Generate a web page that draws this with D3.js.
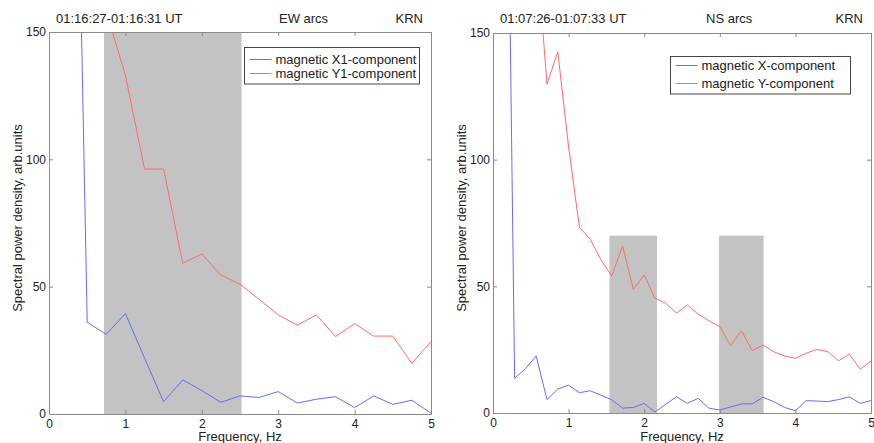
<!DOCTYPE html>
<html lang="en">
<head>
    <meta charset="UTF-8">
    <title>Spectral power density</title>
    <script src="https://cdn.jsdelivr.net/npm/d3@7/dist/d3.min.js"></script>
    <style>
        body { margin: 0; background: #fff; }
        text { font-family: "Liberation Sans", Arial, sans-serif; fill: #222; }
    </style>
</head>
<body>
<script>

    // EW arcs panel, 0.25 Hz steps
    var ewFreq = [0, 0.25, 0.5, 0.75, 1, 1.25, 1.5, 1.75, 2, 2.25, 2.5,
        2.75, 3, 3.25, 3.5, 3.75, 4, 4.25, 4.5, 4.75, 5];
    var ewX = [1200, 420, 36, 31.3, 39.4, 22, 4.8, 13.4, 9.2, 4.6, 7.1,
        6.5, 8.8, 4.3, 5.8, 6.8, 2.5, 7.1, 3.8, 5.4, 0.3];
    var ewY = [800, 500, 250, 158, 133, 96.2, 96.2, 59.2, 62.8, 54.6, 51,
        45, 38.9, 34.9, 38.9, 30.4, 35.5, 30.6, 30.6, 19.9, 28.4];
    var ewBands = [[0.72, 2.52, 150]];

    // NS arcs panel, 1/7 Hz steps
    var nsFreq = [0, 0.143, 0.286, 0.429, 0.571, 0.714, 0.857, 1, 1.143, 1.286, 1.429, 1.571,
        1.714, 1.857, 2, 2.143, 2.286, 2.429, 2.571, 2.714, 2.857, 3, 3.143, 3.286,
        3.429, 3.571, 3.714, 3.857, 4, 4.143, 4.286, 4.429, 4.571, 4.714, 4.857, 5];
    var nsX = [1000, 350, 13.7, 17.5, 22.5, 5.3, 9.5, 11, 8, 8.8, 7, 5.2,
        1.9, 2.2, 3.8, 0.4, 3.5, 6.4, 3.8, 5.8, 1.9, 1.2, 2.4, 3.6,
        3.6, 6.2, 4.5, 2.2, 0.9, 4.9, 4.7, 4.5, 5.3, 6.4, 3.8, 4.9];
    var nsY = [900, 600, 400, 260, 185, 129.8, 142.6, 105, 73.3, 68.6, 60.4, 54.1,
        66, 48.8, 54.5, 45.3, 43.3, 39.4, 42.6, 39, 36.4, 34.1, 26.5, 32.5,
        24.6, 26.8, 24.2, 22.5, 21.6, 23.6, 25.1, 24.2, 20.6, 23.2, 17.3, 20.5];
    var nsBands = [[1.54, 2.17, 70], [2.99, 3.58, 70]];

    var xTicks = [0, 1, 2, 3, 4, 5];
    var yTicks = [0, 50, 100, 150];

    var width = 874;
    var height = 443;

    var svg = d3.select('body')
        .append('svg')
        .attr('width', width)
        .attr('height', height);

    function panel(id, o) {
        var x = d3.scaleLinear().domain([0, 5]).range([o.x0, o.x1]);
        var y = d3.scaleLinear().domain([0, 150]).range([o.y0, o.y1]);
        var g = svg.append('g');

        g.append('clipPath').attr('id', id)
            .append('rect')
            .attr('x', o.x0).attr('y', o.y1)
            .attr('width', o.x1 - o.x0).attr('height', o.y0 - o.y1);

        // shaded frequency bands
        g.selectAll('rect.band')
            .data(o.bands)
            .enter()
            .append('rect')
            .attr('class', 'band')
            .attr('x', function (d) { return x(d[0]); })
            .attr('y', function (d) { return y(d[2]); })
            .attr('width', function (d) { return x(d[1]) - x(d[0]); })
            .attr('height', function (d) { return y(0) - y(d[2]); })
            .attr('fill', '#c3c3c3');

        var line = d3.line()
            .x(function (d) { return x(d[0]); })
            .y(function (d) { return y(d[1]); });

        var series = [
            {vals: o.sx, color: '#6a6aff'},
            {vals: o.sy, color: '#ff6a6a'}
        ];
        g.selectAll('path.series')
            .data(series)
            .enter()
            .append('path')
            .attr('class', 'series')
            .attr('clip-path', 'url(#' + id + ')')
            .attr('d', function (s) { return line(d3.zip(o.freq, s.vals)); })
            .attr('fill', 'none')
            .attr('stroke', function (s) { return s.color; })
            .attr('stroke-width', 1);

        // box with inward ticks (matlab style)
        var fmt = d3.format('d');
        var axes = [
            [d3.axisBottom(x).tickValues(xTicks).tickFormat(fmt).tickSize(-4).tickPadding(5), 'translate(0,' + o.y0 + ')', true],
            [d3.axisTop(x).tickValues(xTicks).tickSize(-4), 'translate(0,' + o.y1 + ')', false],
            [d3.axisLeft(y).tickValues(yTicks).tickFormat(fmt).tickSize(-4).tickPadding(3), 'translate(' + o.x0 + ',0)', true],
            [d3.axisRight(y).tickValues(yTicks).tickSize(-4), 'translate(' + o.x1 + ',0)', false]
        ];
        axes.forEach(function (a) {
            var ag = g.append('g')
                .attr('class', 'axis')
                .attr('transform', a[1])
                .call(a[0]);
            ag.select('.domain').attr('stroke', '#8a8a8a');
            ag.selectAll('.tick line').attr('stroke', '#8a8a8a');
            ag.selectAll('.tick text')
                .style('font-size', '12px')
                .attr('fill', '#222')
                .style('display', a[2] ? null : 'none');
        });

        // titles
        g.append('text').attr('x', o.x0 + 7).attr('y', 22.5)
            .style('font-size', '13px').text(o.time);
        g.append('text').attr('x', o.arcsX).attr('y', 22.5)
            .style('font-size', '13px').text(o.arcs);
        g.append('text').attr('x', o.x1 - 8).attr('y', 22.5)
            .attr('text-anchor', 'end')
            .style('font-size', '13px').text('KRN');

        g.append('text')
            .attr('x', (o.x0 + o.x1) / 2).attr('y', 441)
            .attr('text-anchor', 'middle')
            .style('font-size', '13px')
            .text('Frequency, Hz');

        g.append('text')
            .attr('transform', 'translate(' + (o.x0 - 27) + ',218) rotate(-90)')
            .attr('text-anchor', 'middle')
            .style('font-size', '13px')
            .text('Spectral power density, arb.units');

        // legend
        var lg = g.append('g').attr('transform', 'translate(' + o.leg[0] + ',' + o.leg[1] + ')');
        lg.append('rect')
            .attr('width', o.leg[2]).attr('height', o.leg[3])
            .attr('fill', '#fff').attr('stroke', '#444').attr('stroke-width', 1);
        series.forEach(function (s, i) {
            var yy = o.leg[4] + i * o.leg[5];
            lg.append('line')
                .attr('x1', 5).attr('x2', 27)
                .attr('y1', yy).attr('y2', yy)
                .attr('stroke', s.color);
            lg.append('text')
                .attr('x', 31).attr('y', yy + 4.5)
                .style('font-size', '13px')
                .text(o.labels[i]);
        });
    }

    panel('clipEW', {
        x0: 49, x1: 431, y0: 414, y1: 32,
        freq: ewFreq, sx: ewX, sy: ewY, bands: ewBands,
        time: '01:16:27-01:16:31 UT', arcs: 'EW arcs', arcsX: 279,
        leg: [244.5, 47.5, 175, 36.5, 12, 14],
        labels: ['magnetic X1-component', 'magnetic Y1-component']
    });

    panel('clipNS', {
        x0: 493, x1: 871, y0: 413, y1: 33,
        freq: nsFreq, sx: nsX, sy: nsY, bands: nsBands,
        time: '01:07:26-01:07:33 UT', arcs: 'NS arcs', arcsX: 706,
        leg: [670.5, 56.5, 180, 37.5, 9, 18],
        labels: ['magnetic X-component', 'magnetic Y-component']
    });

</script>
</body>
</html>
